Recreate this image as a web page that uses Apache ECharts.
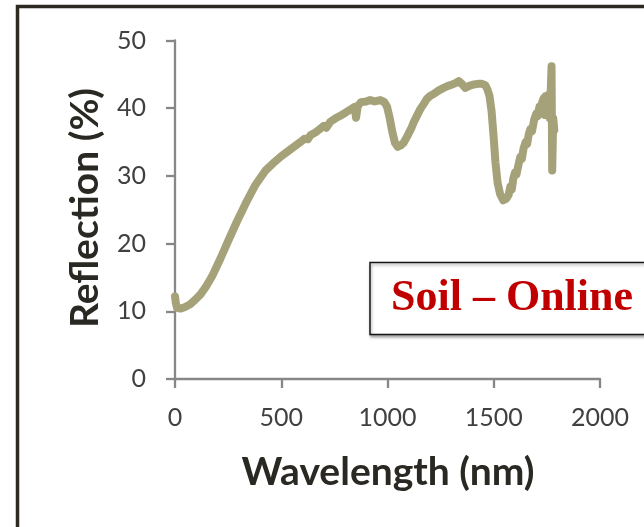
<!DOCTYPE html>
<html>
<head>
<meta charset="utf-8">
<script src="https://cdn.jsdelivr.net/npm/echarts@6/dist/echarts.min.js"></script>
<style>
  html, body { margin: 0; padding: 0; background: #fff; }
  #chart { width: 644px; height: 527px; }
</style>
</head>
<body>
<div id="chart"></div>
<script>
// Soil reflectance spectrum, online measurement
const wavelength = [
  0, 4, 10, 25, 45, 70, 95, 120, 145, 175, 214, 253, 292, 332, 379, 426, 470, 500,
  530, 560, 590, 610, 625, 637, 660, 684, 700, 712, 731, 755, 778, 800, 825, 845,
  852, 860, 875, 900, 918, 940, 966, 985, 998, 1010, 1022, 1035, 1048, 1062, 1076,
  1092, 1110, 1123, 1139, 1155, 1170, 1186, 1200, 1217, 1240, 1264, 1285, 1304,
  1320, 1335, 1350, 1366, 1385, 1405, 1425, 1445, 1460, 1470, 1480, 1490, 1500,
  1508, 1518, 1530, 1545, 1558, 1570, 1578, 1585, 1592, 1600, 1607, 1616, 1625,
  1632, 1640, 1650, 1657, 1665, 1672, 1680, 1690, 1700, 1706, 1715, 1722, 1728,
  1735, 1740, 1745, 1752, 1758, 1764, 1768, 1772, 1775, 1780, 1785
];
const reflection = [
  12.2, 11.2, 10.5, 10.4, 10.6, 11.0, 11.7, 12.5, 13.6, 15.2, 17.8, 20.6, 23.3, 25.9, 28.7, 30.8, 32.1, 32.9,
  33.6, 34.3, 35.0, 35.5, 35.4, 36.0, 36.4, 37.0, 37.4, 37.1, 38.0, 38.5, 38.9, 39.3, 39.8, 40.2,
  38.6, 40.3, 40.9, 41.0, 41.2, 41.0, 41.2, 40.9, 40.2, 38.6, 36.6, 34.9, 34.3, 34.5, 34.9,
  35.8, 36.9, 37.9, 38.9, 39.9, 40.6, 41.4, 41.8, 42.1, 42.6, 43.0, 43.3, 43.5,
  43.7, 44.0, 43.6, 43.0, 43.3, 43.5, 43.6, 43.6, 43.4, 42.8, 41.8, 39.5, 35.5,
  32.0, 29.0, 27.3, 26.4, 26.6, 27.2, 28.4, 28.0, 29.6, 30.5, 30.2, 31.6, 32.8,
  32.5, 34.0, 35.0, 34.7, 36.2, 36.9, 36.6, 38.3, 39.2, 38.8, 40.2, 39.6, 40.9,
  41.5, 39.0, 41.8, 40.5, 42.0, 38.5, 42.5, 46.2, 30.8, 38.5, 36.8
];
const xTicks = { min: 0, max: 2000, step: 500 };
const yTicks = { min: 0, max: 50, step: 10 };
const xTitle = 'Wavelength (nm)';
const yTitle = 'Reflection (%)';
const boxLabel = 'Soil – Online';

const points = wavelength.map((w, i) => [w, reflection[i]]);

const axisGrey = '#878787';
const labelStyle = { fontFamily: 'Lato', fontSize: 25, color: '#404040' };
const plainNumber = (v) => String(v);

const chart = echarts.init(document.getElementById('chart'), null, { renderer: 'canvas' });
chart.setOption({
  animation: false,
  backgroundColor: '#ffffff',
  grid: { left: 175, top: 40.5, right: 44, bottom: 148, containLabel: false },
  xAxis: {
    type: 'value',
    min: xTicks.min, max: xTicks.max, interval: xTicks.step,
    axisLine: { show: true, onZero: false, lineStyle: { color: axisGrey, width: 2.3 } },
    axisTick: { show: true, length: 9, lineStyle: { color: axisGrey, width: 2.3 } },
    axisLabel: Object.assign({ margin: 26, formatter: plainNumber }, labelStyle),
    splitLine: { show: false }
  },
  yAxis: {
    type: 'value',
    min: yTicks.min, max: yTicks.max, interval: yTicks.step,
    axisLine: { show: true, lineStyle: { color: axisGrey, width: 2.3 } },
    axisTick: { show: true, length: 9, lineStyle: { color: axisGrey, width: 2.3 } },
    axisLabel: Object.assign({ margin: 29, formatter: plainNumber }, labelStyle),
    splitLine: { show: false }
  },
  series: [{
    type: 'line',
    data: points,
    showSymbol: false,
    symbol: 'none',
    clip: true,
    lineStyle: { color: '#a5a27a', width: 8, cap: 'round', join: 'round' }
  }],
  graphic: [
    {
      type: 'rect',
      shape: { x: 17.5, y: 6.5, width: 1000, height: 1000 },
      style: { fill: 'none', stroke: '#2d2a22', lineWidth: 3.5 },
      z: 1
    },
    {
      type: 'text',
      x: 388, y: 472,
      style: {
        text: xTitle, font: 'bold 39px Lato', fill: '#2a2822',
        textAlign: 'center', textVerticalAlign: 'middle'
      }
    },
    {
      type: 'text',
      x: 85, y: 208,
      rotation: Math.PI / 2,
      style: {
        text: yTitle, font: 'bold 39px Lato', fill: '#2a2822',
        textAlign: 'center', textVerticalAlign: 'middle'
      }
    },
    {
      type: 'rect',
      shape: { x: 370, y: 262.5, width: 400, height: 72 },
      style: {
        fill: '#ffffff', stroke: '#151515', lineWidth: 1.5,
        shadowBlur: 3, shadowOffsetX: 1, shadowOffsetY: 2, shadowColor: 'rgba(0,0,0,0.35)'
      },
      z: 10
    },
    {
      type: 'text',
      x: 391, y: 299,
      z: 11,
      style: {
        text: boxLabel, font: 'bold 44px "Liberation Serif"', fill: '#c00000',
        textAlign: 'left', textVerticalAlign: 'middle'
      }
    }
  ]
});
</script>
</body>
</html>
